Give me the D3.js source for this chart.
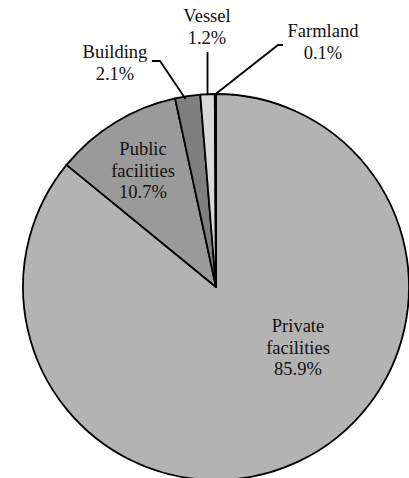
<!DOCTYPE html>
<html><head><meta charset="utf-8">
<script src="https://cdn.jsdelivr.net/npm/d3@7"></script>
</head><body style="margin:0">
<svg id="c" width="409" height="478"></svg>
<script>
const categories = ["Private facilities", "Public facilities", "Building", "Vessel", "Farmland"];
const values = [85.9, 10.7, 2.1, 1.2, 0.1];
const labels = ["85.9%", "10.7%", "2.1%", "1.2%", "0.1%"];
const colors = ["#b3b3b3", "#9a9a9a", "#7f7f7f", "#d9d9d9", "#c0c0c0"];

const svg = d3.select("#c");
const cx = 216, cy = 287, r = 193;
const g = svg.append("g").attr("transform", `translate(${cx},${cy})`);
const pie = d3.pie().sort(null).value(d => d.v).startAngle(0).endAngle(2*Math.PI);
const data = categories.map((c,i)=>({c, v: values[i], l: labels[i], col: colors[i]}));
const arcs = pie(data);
const arc = d3.arc().innerRadius(0).outerRadius(r);
g.selectAll("path").data(arcs).join("path")
  .attr("d", arc).attr("fill", d=>d.data.col)
  .attr("stroke", "#000").attr("stroke-width", 1.8).attr("stroke-linejoin","round");

const labelPos = {
  "Private facilities": {x: 298, y: 332, lines: ["Private", "facilities"]},
  "Public facilities": {x: 143, y: 155, lines: ["Public", "facilities"]},
  "Building": {x: 115, y: 58, lines: ["Building"]},
  "Vessel": {x: 207, y: 22, lines: ["Vessel"]},
  "Farmland": {x: 323, y: 37, lines: ["Farmland"]}
};
const lh = 21.5;
arcs.forEach(a => {
  const p = labelPos[a.data.c];
  const all = p.lines.concat([a.data.l]);
  all.forEach((s,i)=> svg.append("text").attr("text-anchor","middle")
    .attr("x", p.x).attr("y", p.y + i*lh).attr("fill","#111")
    .style("font-family","Liberation Serif").style("font-size","18.5px").text(s));
});

function edge(a, frac) {
  const ang = a.startAngle + (a.endAngle - a.startAngle)*frac;
  return [cx + r*Math.sin(ang), cy - r*Math.cos(ang)];
}
const line = d3.line();
const bld = arcs[2], ves = arcs[3], frm = arcs[4];
const pb = edge(bld, 0.5);
svg.append("path").attr("d", line([[152,61],[160,61],[pb[0]-2,pb[1]+3]]))
  .attr("fill","none").attr("stroke","#000").attr("stroke-width",1.8);
const pv = edge(ves, 0.5);
svg.append("path").attr("d", line([[pv[0],52],[pv[0],pv[1]+1]]))
  .attr("fill","none").attr("stroke","#000").attr("stroke-width",1.8);
const pf = edge(frm, 0.5);
svg.append("path").attr("d", line([[283,45],[278,45],[pf[0]-1,pf[1]+1]]))
  .attr("fill","none").attr("stroke","#000").attr("stroke-width",1.8);
</script>
</body></html>
